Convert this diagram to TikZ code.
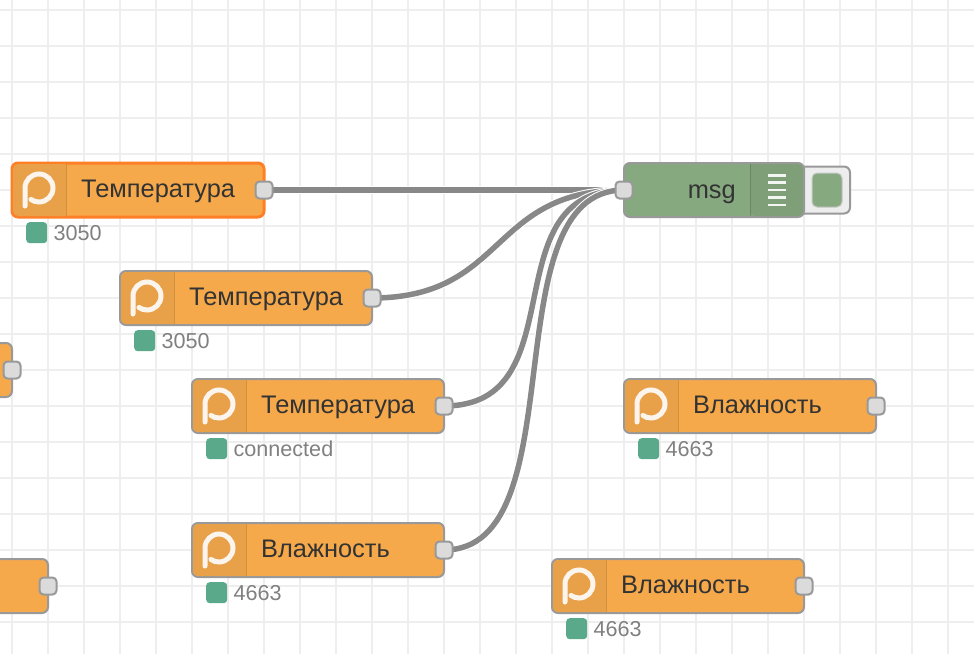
\documentclass[tikz,border=0pt]{standalone}
\usepackage{fontspec}
\setmainfont{Liberation Sans}
\usetikzlibrary{calc,positioning,backgrounds}
\definecolor{gridline}{HTML}{EEEEEE}
\definecolor{nodeorange}{HTML}{F6A94B}
\definecolor{iconorange}{HTML}{E8A049}
\definecolor{nodeedge}{HTML}{999999}
\definecolor{selectedge}{HTML}{FF7F27}
\definecolor{msggreen}{HTML}{87A980}
\definecolor{msgdark}{HTML}{7F9F78}
\definecolor{statusgreen}{HTML}{5AA98A}
\definecolor{wiregray}{HTML}{888888}
\tikzset{
  flownode/.style={draw=nodeedge,line width=2pt,fill=nodeorange,rounded corners=6pt,anchor=north west,minimum width=252pt,minimum height=54pt,inner sep=0pt,outer sep=0pt},
  selected/.style={flownode,draw=selectedge,line width=3pt},
  msgnode/.style={flownode,fill=msggreen,minimum width=180pt},
  portbox/.style={draw=nodeedge,line width=2pt,fill=black!14,rounded corners=4pt,minimum size=17pt,inner sep=0pt},
  nodelabel/.style={anchor=base west,text=black!80,font=\fontsize{25.4}{25.4}\selectfont,inner sep=0pt},
  statusdot/.style={fill=statusgreen,rounded corners=3.5pt,minimum size=21pt,inner sep=0pt,anchor=north west},
  statuslabel/.style={text=black!50,font=\fontsize{21.6}{21.6}\selectfont,inner sep=0pt},
  wire/.style={draw=white,line width=1pt,double=wiregray,double distance=5.5pt}
}
\begin{document}
\begin{tikzpicture}[x=1pt,y=1pt]
\useasboundingbox (0,0) rectangle (974,-654);
\clip (0,0) rectangle (974,-654);

% the nodes cut off by the left edge
\node[flownode] (cutA) at (-240,-343) {};
\node[portbox] (cutAport) at (cutA.east) {};
\node[flownode] (cutB) at (-204,-559) {};
\node[portbox] (cutBport) at (cutB.east) {};

\foreach \n/\x/\y/\st/\t/\s in {
  tempA/12/163/selected/Температура/3050,
  tempB/120/271/flownode/Температура/3050,
  tempC/192/379/flownode/Температура/connected,
  humA/192/523/flownode/Влажность/4663,
  humB/624/379/flownode/Влажность/4663,
  humC/552/559/flownode/Влажность/4663} {
  \node[\st] (\n) at (\x,-\y) {};
  % icon part of the node
  \begin{scope}[shift={(\x,-\y)}]
    \fill[iconorange,rounded corners=5pt] (1,-1) -- (1,-53) [sharp corners] -- (54,-53) -- (54,-1) [rounded corners=5pt] -- cycle;
    \draw[iconorange!90!black,line width=1pt] (54,-1) -- (54,-53);
    \draw[white,opacity=.9,line width=5pt,line cap=round] (13,-43) -- (13,-25) arc[start angle=180,end angle=-125,radius=14];
  \end{scope}
  \node[nodelabel] (\n label) at ($(\n.north west)+(69,-34.5)$) {\t};
  \node[portbox] (\n port) at (\n.east) {};
  \node[statusdot] (\n dot) at ($(\n.south west)+(14,-5)$) {};
  \node[statuslabel,right=6pt of \n dot] {\s};
}

% debug node
\node[draw=nodeedge,line width=2pt,fill=black!7,rounded corners=6pt,minimum width=60pt,minimum height=47pt,anchor=east] (msgbutton) at (851,-190) {};
\node[fill=msggreen,draw=black!22,line width=1pt,rounded corners=5pt,minimum width=30pt,minimum height=34pt,inner sep=0pt] (msgtoggle) at (827,-190) {};
\node[msgnode] (msg) at (624,-163) {};
\fill[msgdark,rounded corners=5pt] (750,-164) -- (750,-216) [rounded corners=5pt] -- (803,-216) -- (803,-164) [sharp corners] -- cycle;
\draw[black!30!msgdark,opacity=.5,line width=1pt] (750,-164) -- (750,-216);
\node[nodelabel,anchor=base east] (msglabel) at (736,-198) {msg};
\foreach \ly in {175.3,182.7,190,197.3,205} \draw[white,opacity=.9,line width=2.5pt] (768,-\ly) -- (786,-\ly);
\node[portbox] (msgport) at (msg.west) {};

\begin{scope}[on background layer]
  \foreach \gx in {12,48,...,984} \draw[gridline,line width=2pt] (\gx,0) -- (\gx,-654);
  \foreach \gy in {10,46,...,658} \draw[gridline,line width=2pt] (0,-\gy) -- (974,-\gy);
  \draw[wire] (tempAport.center) -- (msgport.center);
  \draw[wire] (tempBport.center) .. controls +(135,0) and +(-135,0) .. (msgport.center);
  \draw[wire] (tempCport.center) .. controls +(135,0) and +(-135,0) .. (msgport.center);
  \draw[wire] (humAport.center) .. controls +(135,0) and +(-135,0) .. (msgport.center);
\end{scope}
\end{tikzpicture}
\end{document}
